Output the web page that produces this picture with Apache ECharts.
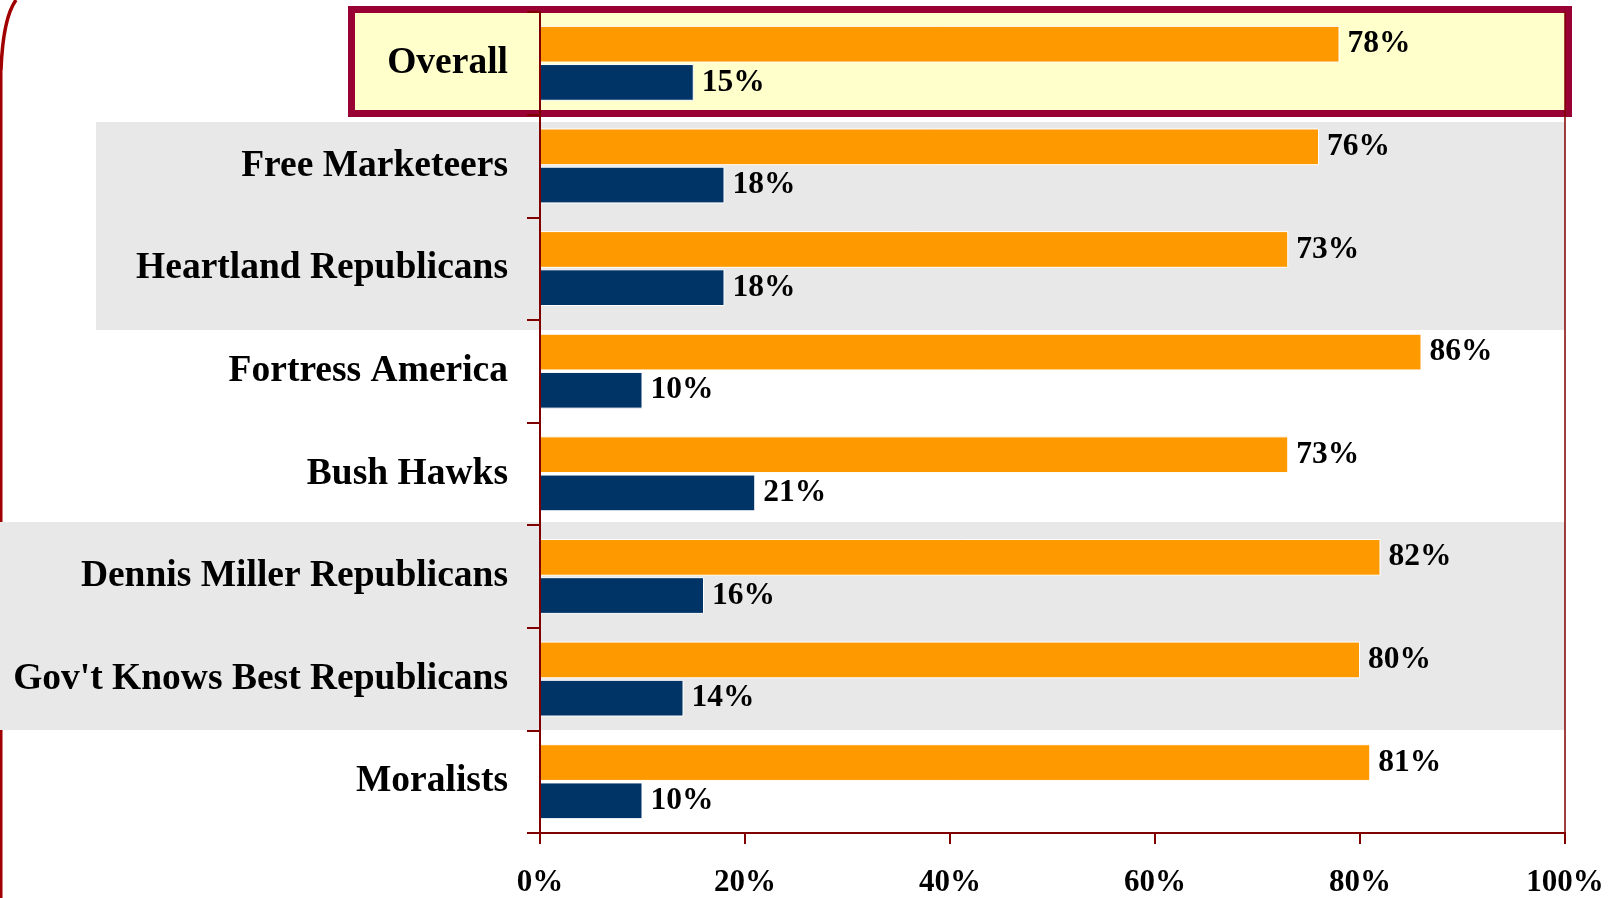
<!DOCTYPE html>
<html>
<head>
<meta charset="utf-8">
<script src="https://cdn.jsdelivr.net/npm/echarts@6/dist/echarts.min.js"></script>
<style>
  html, body { margin: 0; padding: 0; background: #fff; }
  #chart { width: 1619px; height: 898px; }
</style>
</head>
<body>
<div id="chart"></div>
<script>
// segments, top to bottom
var categories = ['Overall', 'Free Marketeers', 'Heartland Republicans', 'Fortress America',
  'Bush Hawks', 'Dennis Miller Republicans', "Gov't Knows Best Republicans", 'Moralists'];
// orange (upper) bar of each pair
var approve = [78, 76, 73, 86, 73, 82, 80, 81];
// navy (lower) bar of each pair
var disapprove = [15, 18, 18, 10, 21, 16, 14, 10];
var xTicks = [0, 20, 40, 60, 80, 100];

var serif = '"Liberation Serif", "Times New Roman", serif';
var darkRed = '#800000';

var chart = echarts.init(document.getElementById('chart'));

function valueLabel() {
  return {
    show: true,
    position: 'right',
    distance: 8,
    padding: [8, 0, 0, 0],
    backgroundColor: 'rgba(0,0,0,0)',
    formatter: '{c}%',
    color: '#000',
    fontFamily: serif,
    fontWeight: 'bold',
    fontSize: 31.5
  };
}

chart.setOption({
  animation: false,
  grid: { left: 540, right: 54, top: 12, bottom: 63, containLabel: false },
  graphic: [
    // slide frame on the left
    { type: 'bezierCurve', z: 1, shape: { x1: 16, y1: 0, x2: 1, y2: 70, cpx1: 3, cpy1: 18 },
      style: { fill: null, stroke: '#a00000', lineWidth: 3.5 } },
    { type: 'line', z: 1, shape: { x1: 1, y1: 70, x2: 1, y2: 898 },
      style: { stroke: '#a00000', lineWidth: 3 } },
    // grey bands
    { type: 'rect', z: 2, shape: { x: 96, y: 122, width: 1469, height: 208 },
      style: { fill: '#e8e8e8' } },
    { type: 'rect', z: 2, shape: { x: 0, y: 522, width: 1565, height: 208 },
      style: { fill: '#e8e8e8' } },
    // highlighted Overall row
    { type: 'rect', z: 2, shape: { x: 351.5, y: 9.5, width: 1217, height: 104 },
      style: { fill: '#ffffcc', stroke: '#990033', lineWidth: 7 } }
  ],
  xAxis: {
    type: 'value',
    min: xTicks[0],
    max: xTicks[xTicks.length - 1],
    interval: xTicks[1] - xTicks[0],
    z: 10,
    axisLine: { show: true, lineStyle: { color: darkRed, width: 2 } },
    axisTick: { show: true, length: 11, lineStyle: { color: darkRed, width: 2 } },
    splitLine: { show: false },
    axisLabel: {
      margin: 34,
      formatter: '{value}%',
      color: '#000',
      fontFamily: serif,
      fontWeight: 'bold',
      fontSize: 31
    }
  },
  yAxis: [{
    type: 'category',
    data: categories,
    inverse: true,
    z: 10,
    axisLine: { show: true, lineStyle: { color: darkRed, width: 2 } },
    axisTick: { show: true, length: 13, lineStyle: { color: darkRed, width: 2 } },
    axisLabel: {
      margin: 32,
      padding: [9, 0, 0, 0],
      backgroundColor: 'rgba(0,0,0,0)',
      color: '#000',
      fontFamily: serif,
      fontWeight: 'bold',
      fontSize: 37.5
    }
  }, {
    type: 'category',
    data: categories,
    inverse: true,
    position: 'right',
    z: 10,
    axisLine: { show: true, lineStyle: { color: darkRed, width: 1.5 } },
    axisTick: { show: false },
    axisLabel: { show: false }
  }],
  series: [{
    type: 'bar',
    name: 'approve',
    data: approve,
    z: 5,
    barCategoryGap: '27%',
    barGap: '4%',
    itemStyle: { color: '#ff9900', borderColor: '#fff', borderWidth: 1 },
    label: valueLabel()
  }, {
    type: 'bar',
    name: 'disapprove',
    data: disapprove,
    z: 5,
    itemStyle: { color: '#003366', borderColor: '#fff', borderWidth: 1 },
    label: valueLabel()
  }]
});
</script>
</body>
</html>
